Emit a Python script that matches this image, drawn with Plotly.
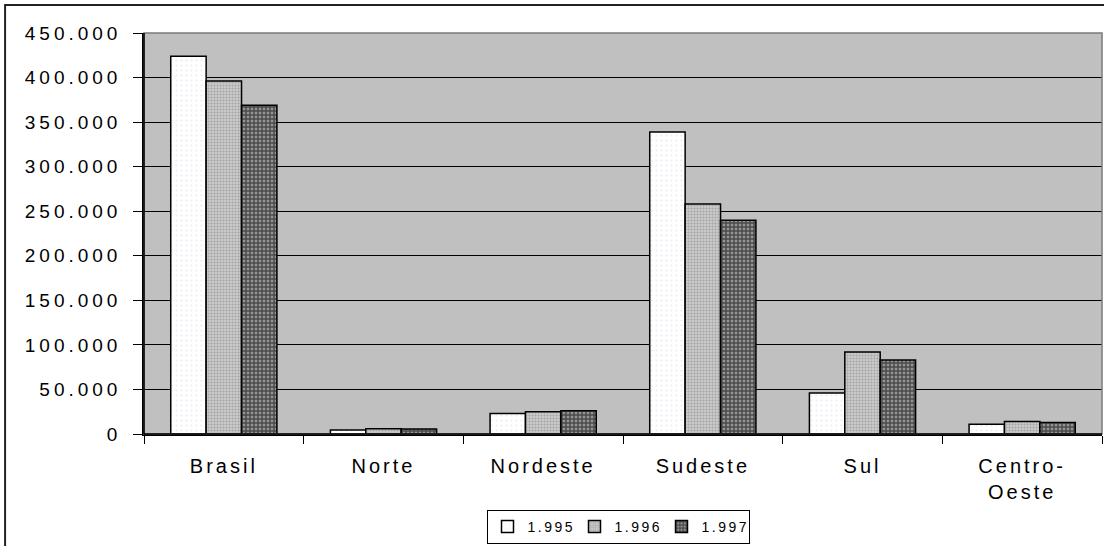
import plotly.graph_objects as go

categories = ["Brasil", "Norte", "Nordeste", "Sudeste", "Sul", "Centro-Oeste"]
category_labels = ["Brasil", "Norte", "Nordeste", "Sudeste", "Sul", "Centro-<br>Oeste"]
years = ["1.995", "1.996", "1.997"]
v1995 = [424000, 4500, 23000, 339000, 46000, 11000]
v1996 = [396000, 6000, 25000, 258000, 92000, 14000]
v1997 = [369000, 5500, 26000, 240000, 83000, 13000]
y_tick_values = [0, 50000, 100000, 150000, 200000, 250000, 300000, 350000, 400000, 450000]
y_tick_labels = ["0", "50.000", "100.000", "150.000", "200.000", "250.000",
                 "300.000", "350.000", "400.000", "450.000"]

FONT = "Liberation Sans, Arial, sans-serif"


def spaced(t, px):
    return f'<span style="letter-spacing:{px}px">{t}</span>'


patterns = [
    dict(shape=".", fgcolor="#d8d8ec", bgcolor="#ffffff", size=5, solidity=0.15),
    dict(shape=".", fgcolor="#808080", bgcolor="#d4d4d4", size=3, solidity=0.5),
    dict(shape="+", fgcolor="#000000", bgcolor="#959595", size=4, solidity=0.6),
]

fig = go.Figure()
for name, vals, pat in zip(years, [v1995, v1996, v1997], patterns):
    fig.add_trace(go.Bar(
        x=categories, y=vals, name=spaced(name, 2.5),
        marker=dict(color=pat["bgcolor"], pattern=pat,
                    line=dict(color="#000000", width=1.5)),
    ))

fig.update_layout(
    width=1104, height=546,
    margin=dict(l=144, r=2, t=33, b=112),
    paper_bgcolor="white",
    plot_bgcolor="#c0c0c0",
    barmode="group", bargap=0.335, bargroupgap=0,
    font=dict(family=FONT, color="#000000"),
    showlegend=True,
    legend=dict(orientation="h", x=618 / 1104, xanchor="center",
                xref="container", yref="container",
                y=(546 - 544) / 546, yanchor="bottom",
                bordercolor="#000000", borderwidth=1, bgcolor="white",
                font=dict(size=14, family=FONT), itemwidth=30,
                tracegroupgap=0, entrywidth=42, entrywidthmode="pixels"),
)

fig.update_xaxes(
    tickmode="array", tickvals=categories,
    ticktext=[spaced(t, 3) for t in category_labels],
    tickfont=dict(size=20, family=FONT),
    showline=True, linecolor="#000000", linewidth=1.5,
    ticks="outside", ticklen=8, tickcolor="#000000", tickson="boundaries",
    ticklabelstandoff=13, automargin=False,
    showgrid=False, mirror=False,
)
fig.update_yaxes(
    range=[0, 450000], tickmode="array", tickvals=y_tick_values,
    ticktext=[spaced(t, 4) for t in y_tick_labels],
    tickfont=dict(size=19, family=FONT),
    showline=True, linecolor="#000000", linewidth=1.5,
    ticks="outside", ticklen=9, tickcolor="#000000",
    ticklabelstandoff=8, automargin=False,
    showgrid=True, gridcolor="#000000", gridwidth=1,
    zeroline=False,
)

# plot area frame (top/right grey edge)
fig.add_shape(type="rect", xref="paper", yref="paper", x0=0, x1=1, y0=0, y1=1,
              line=dict(color="#7a7a7a", width=1.5), layer="above")
fig.add_shape(type="line", xref="paper", yref="paper", x0=0, x1=0, y0=0, y1=1,
              line=dict(color="#000000", width=1.5), layer="above")
fig.add_shape(type="line", xref="paper", yref="paper", x0=0, x1=1, y0=0, y1=0,
              line=dict(color="#000000", width=1.5), layer="above")
# outer chart border
fig.add_shape(type="rect", xref="paper", yref="paper", x0=-0.145, x1=1.2, y0=-0.5, y1=1.0698,
              line=dict(color="#222222", width=2), layer="above")

fig.write_html("out.html")
